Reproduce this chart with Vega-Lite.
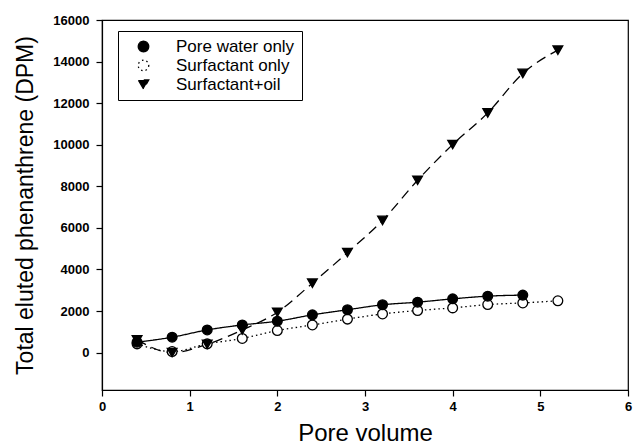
{
  "$schema": "https://vega.github.io/schema/vega-lite/v6.json",
  "width": 526,
  "height": 370,
  "autosize": "none",
  "padding": {"left": 102, "top": 20, "right": 6, "bottom": 56},
  "background": "white",
  "config": {
    "view": {"stroke": "black", "strokeWidth": 1.2},
    "font": "Liberation Sans",
    "axis": {
      "grid": false,
      "domainColor": "black",
      "domainWidth": 1.2,
      "tickColor": "black",
      "tickSize": 6,
      "tickWidth": 1.2,
      "labelColor": "black",
      "labelFont": "Liberation Sans",
      "labelFontWeight": "bold",
      "labelFontSize": 13,
      "titleColor": "black",
      "titleFont": "Liberation Sans",
      "titleFontWeight": "normal"
    }
  },
  "data": {
    "values": [
      {"series": "Surfactant only", "pv": 0.4, "dpm": 420},
      {"series": "Surfactant only", "pv": 0.8, "dpm": 50},
      {"series": "Surfactant only", "pv": 1.2, "dpm": 420},
      {"series": "Surfactant only", "pv": 1.6, "dpm": 680},
      {"series": "Surfactant only", "pv": 2.0, "dpm": 1060},
      {"series": "Surfactant only", "pv": 2.4, "dpm": 1330},
      {"series": "Surfactant only", "pv": 2.8, "dpm": 1610},
      {"series": "Surfactant only", "pv": 3.2, "dpm": 1860},
      {"series": "Surfactant only", "pv": 3.6, "dpm": 2025},
      {"series": "Surfactant only", "pv": 4.0, "dpm": 2150},
      {"series": "Surfactant only", "pv": 4.4, "dpm": 2310},
      {"series": "Surfactant only", "pv": 4.8, "dpm": 2390},
      {"series": "Surfactant only", "pv": 5.2, "dpm": 2490},
      {"series": "Surfactant+oil", "pv": 0.4, "dpm": 610},
      {"series": "Surfactant+oil", "pv": 0.8, "dpm": 0},
      {"series": "Surfactant+oil", "pv": 1.2, "dpm": 400},
      {"series": "Surfactant+oil", "pv": 1.6, "dpm": 1090},
      {"series": "Surfactant+oil", "pv": 2.0, "dpm": 1940},
      {"series": "Surfactant+oil", "pv": 2.4, "dpm": 3340},
      {"series": "Surfactant+oil", "pv": 2.8, "dpm": 4810},
      {"series": "Surfactant+oil", "pv": 3.2, "dpm": 6360},
      {"series": "Surfactant+oil", "pv": 3.6, "dpm": 8290},
      {"series": "Surfactant+oil", "pv": 4.0, "dpm": 10010},
      {"series": "Surfactant+oil", "pv": 4.4, "dpm": 11530},
      {"series": "Surfactant+oil", "pv": 4.8, "dpm": 13430},
      {"series": "Surfactant+oil", "pv": 5.2, "dpm": 14550},
      {"series": "Pore water only", "pv": 0.4, "dpm": 500},
      {"series": "Pore water only", "pv": 0.8, "dpm": 740},
      {"series": "Pore water only", "pv": 1.2, "dpm": 1090},
      {"series": "Pore water only", "pv": 1.6, "dpm": 1330},
      {"series": "Pore water only", "pv": 2.0, "dpm": 1510},
      {"series": "Pore water only", "pv": 2.4, "dpm": 1815},
      {"series": "Pore water only", "pv": 2.8, "dpm": 2060},
      {"series": "Pore water only", "pv": 3.2, "dpm": 2300},
      {"series": "Pore water only", "pv": 3.6, "dpm": 2425},
      {"series": "Pore water only", "pv": 4.0, "dpm": 2585},
      {"series": "Pore water only", "pv": 4.4, "dpm": 2715},
      {"series": "Pore water only", "pv": 4.8, "dpm": 2765}
    ]
  },
  "encoding": {
    "x": {
      "field": "pv",
      "type": "quantitative",
      "scale": {"domain": [0, 6], "nice": false},
      "axis": {"values": [0, 1, 2, 3, 4, 5, 6], "format": "d", "title": "Pore volume", "titleFontSize": 24, "labelPadding": 4, "titlePadding": 8, "labelFlush": false}
    },
    "y": {
      "field": "dpm",
      "type": "quantitative",
      "scale": {"domain": [-1800, 16000], "nice": false, "zero": false},
      "axis": {"values": [0, 2000, 4000, 6000, 8000, 10000, 12000, 14000, 16000], "format": "d", "title": "Total eluted phenanthrene (DPM)", "titleFontSize": 23, "labelPadding": 7, "titlePadding": 15, "labelFlush": false}
    }
  },
  "layer": [
    {
      "mark": {"type": "line", "interpolate": "monotone", "color": "black", "strokeWidth": 1.3},
      "encoding": {
        "detail": {"field": "series"},
        "strokeDash": {
          "field": "series",
          "type": "nominal",
          "scale": {"domain": ["Pore water only", "Surfactant only", "Surfactant+oil"], "range": [[1, 0], [1.5, 3], [10, 6]]}
        }
      }
    },
    {
      "mark": {"type": "point", "filled": true, "size": 95, "stroke": "black", "strokeWidth": 1.3, "opacity": 1},
      "encoding": {
        "shape": {
          "field": "series",
          "type": "nominal",
          "scale": {"domain": ["Pore water only", "Surfactant only", "Surfactant+oil"], "range": ["circle", "circle", "triangle-down"]},
          "legend": {
            "title": null,
            "orient": "none",
            "legendX": 16,
            "legendY": 11,
            "strokeColor": "black",
            "fillColor": "white",
            "padding": 7,
            "symbolSize": 110,
            "symbolOffset": 10,
            "symbolStrokeColor": "black",
            "symbolStrokeWidth": 1.3,
            "labelOffset": 24,
            "labelFontSize": 17,
            "labelFont": "Liberation Sans",
            "labelColor": "black",
            "rowPadding": 1
          }
        },
        "fill": {
          "field": "series",
          "type": "nominal",
          "scale": {"domain": ["Pore water only", "Surfactant only", "Surfactant+oil"], "range": ["black", "white", "black"]}
        }
      }
    }
  ]
}
